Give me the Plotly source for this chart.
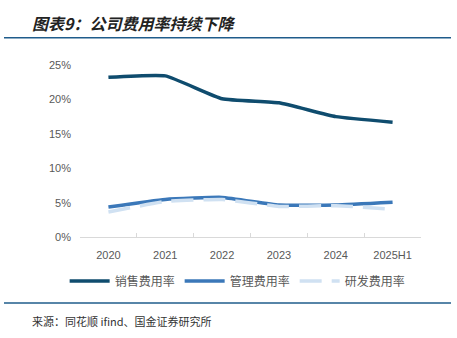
import plotly.graph_objects as go

W, H = 457, 338
years = ["2020", "2021", "2022", "2023", "2024", "2025H1"]
sales = [0.232, 0.234, 0.201, 0.195, 0.175, 0.167]
admin = [0.044, 0.055, 0.058, 0.047, 0.047, 0.051]
rnd = [0.037, 0.052, 0.055, 0.045, 0.046, 0.041]
names = ["销售费用率", "管理费用率", "研发费用率"]
yticks = [0, 0.05, 0.10, 0.15, 0.20, 0.25]
ytext = ["0%", "5%", "10%", "15%", "20%", "25%"]

font = "Noto Sans CJK SC, Liberation Sans, sans-serif"

fig = go.Figure()
fig.add_trace(go.Scatter(x=years, y=sales, name=names[0], mode="lines",
                         line=dict(color="#0f4c6e", width=3.5, shape="spline", smoothing=0.4)))
fig.add_trace(go.Scatter(x=years, y=admin, name=names[1], mode="lines",
                         line=dict(color="#3b78b9", width=3.5, shape="spline", smoothing=0.4)))
fig.add_trace(go.Scatter(x=years, y=rnd, name=names[2], mode="lines",
                         line=dict(color="#d0e1f2", width=3.5, dash="22px,10px", shape="spline", smoothing=0.4)))

def px(x):
    return x / W

def py(y):
    return 1 - y / H

fig.update_layout(
    width=W, height=H,
    margin=dict(l=0, r=0, t=0, b=0),
    paper_bgcolor="white", plot_bgcolor="white",
    font=dict(family=font, color="#595959", size=11),
    xaxis=dict(domain=[px(80), px(421)], type="category", showgrid=False, range=[-0.5, 5.5],
               showline=True, linecolor="#d9d9d9", linewidth=1,
               ticks="inside", tickson="boundaries", ticklen=4, tickcolor="#d9d9d9",
               ticklabelstandoff=7,
               tickfont=dict(size=11, color="#595959", family="Liberation Sans, sans-serif"),
               fixedrange=True),
    yaxis=dict(domain=[py(240), py(61)], range=[0, 0.25], tickvals=yticks, ticktext=ytext,
               showgrid=False, zeroline=False, showline=False, ticks="",
               ticklabelstandoff=8,
               tickfont=dict(size=11, color="#595959", family="Liberation Sans, sans-serif"),
               fixedrange=True),
    showlegend=True,
    legend=dict(orientation="h", x=0.52, xanchor="center", y=py(285), yanchor="middle",
                font=dict(size=12, color="#595959", family=font),
                itemwidth=40, traceorder="normal", bgcolor="rgba(0,0,0,0)"),
)

fig.add_shape(type="line", xref="paper", yref="paper", x0=px(4), x1=px(451), y0=py(33), y1=py(33),
              line=dict(color="#1f5c8b", width=1.5))
fig.add_shape(type="line", xref="paper", yref="paper", x0=px(4), x1=px(451), y0=py(308), y1=py(308),
              line=dict(color="#1f5c8b", width=1.5))
fig.add_annotation(text="<b><i>图表9：公司费用率持续下降</i></b>", xref="paper", yref="paper",
                   x=px(30), y=py(18), xanchor="left", yanchor="middle", showarrow=False,
                   font=dict(size=16, color="#222222", family=font))
fig.add_annotation(text="来源：同花顺 ifind、国金证券研究所", xref="paper", yref="paper",
                   x=px(30), y=py(327), xanchor="left", yanchor="middle", showarrow=False,
                   font=dict(size=11, color="#333333", family=font))

fig.write_html("out.html")
